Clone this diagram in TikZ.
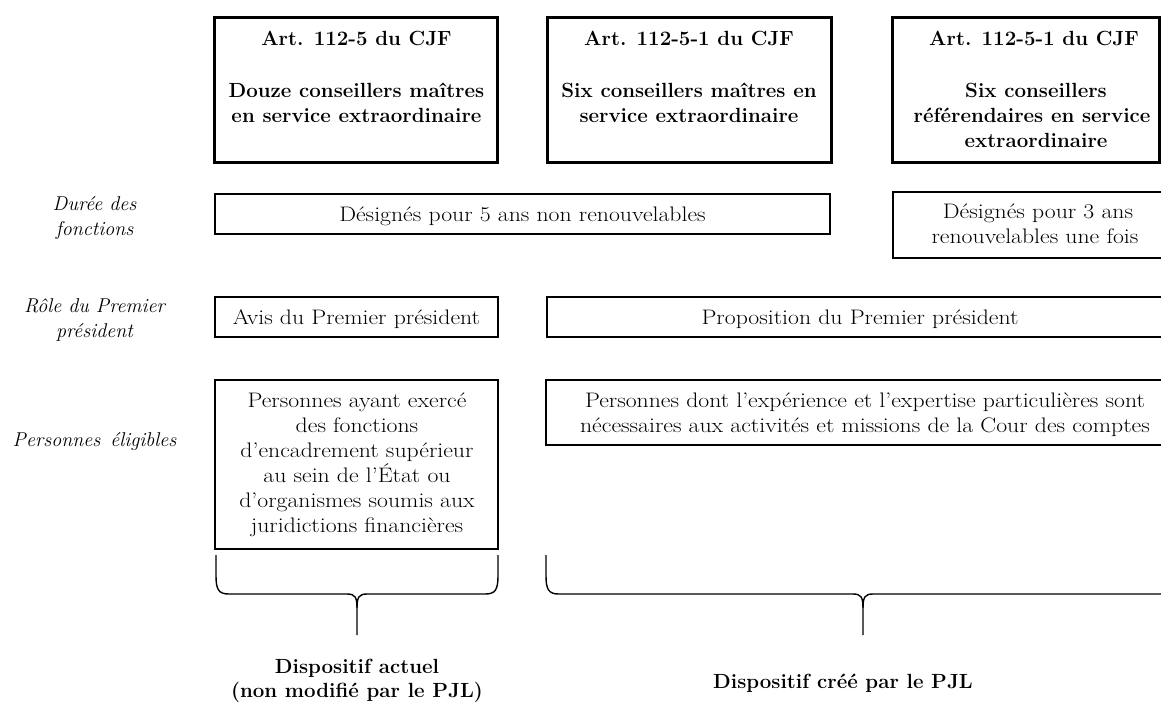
\documentclass[tikz,border=0pt]{standalone}
\usepackage{fontspec}
\setmainfont{Latin Modern Roman}
\newfontfamily\widefont{Latin Modern Roman}[FakeStretch=1.13]
\begin{document}
\begin{tikzpicture}[x=1pt,y=-1pt,
  bigbox/.style={draw, line width=3pt, inner sep=0pt, minimum width=#1},
  box/.style={draw, line width=1.4pt, inner sep=0pt},
  txt/.style={anchor=base, inner sep=0pt, font=\widefont\fontsize{21}{25}\selectfont},
  btxt/.style={anchor=base, inner sep=0pt, font=\fontsize{20.5}{25}\selectfont\bfseries},
  lab/.style={anchor=base, inner sep=0pt, font=\fontsize{20}{25}\selectfont\itshape},
  brace/.style={line width=1.4pt, line join=round}]
\useasboundingbox (0,0) rectangle (1161,702);
\clip (0,0) rectangle (1161,702);

% top boxes
\node[bigbox=283pt, minimum height=145pt] (b1) at (356,89.5) {};
\node[bigbox=284pt, minimum height=145pt] (b2) at (689,89.5) {};
\node[bigbox=267pt, minimum height=145pt] (b3) at (1025.5,89.5) {};

\node[btxt] (b1a) at (356.5,45) {Art. 112-5 du CJF};
\node[btxt] (b1b) at (356.5,97) {Douze conseillers maîtres};
\node[btxt] (b1c) at (356.5,122) {en service extraordinaire};

\node[btxt] (b2a) at (689,45) {Art. 112-5-1 du CJF};
\node[btxt] (b2b) at (689,97) {Six conseillers maîtres en};
\node[btxt] (b2c) at (689,122) {service extraordinaire};

\node[btxt] (b3a) at (1034,45) {Art. 112-5-1 du CJF};
\node[btxt] (b3b) at (1036,97) {Six conseillers};
\node[btxt] (b3c) at (1032,122) {référendaires en service};
\node[btxt] (b3d) at (1036,147) {extraordinaire};

% row labels
\node[lab] (l1a) at (94.5,210) {Durée des};
\node[lab] (l1b) at (94.5,235) {fonctions};
\node[lab] (l2a) at (94.5,312) {Rôle du Premier};
\node[lab] (l2b) at (94.5,337) {président};
\node[lab] (l3) at (94.5,446) {Personnes\hspace{0.5em}éligibles};

% Durée row
\node[box, minimum width=615pt, minimum height=40pt] (dA) at (522.5,214) {};
\node[txt] (dAt) at (522.5,221) {Désignés pour 5 ans non renouvelables};
\node[box, minimum width=287pt, minimum height=66pt] (dB) at (1036.5,225) {};
\node[txt] (dBa) at (1038,218) {Désignés pour 3 ans};
\node[txt] (dBb) at (1035,243) {renouvelables une fois};

% Rôle row
\node[box, minimum width=283pt, minimum height=40pt] (rA) at (356.5,317) {};
\node[txt] (rAt) at (356.5,324.5) {Avis du Premier président};
\node[box, minimum width=633pt, minimum height=40pt] (rB) at (863.5,317) {};
\node[txt] (rBt) at (860,324.5) {Proposition du Premier président};

% Personnes row
\node[box, minimum width=283pt, minimum height=169pt] (pA) at (356.5,464.5) {};
\node[txt] (pA1) at (357,407) {Personnes ayant exercé};
\node[txt] (pA2) at (357,432) {des fonctions};
\node[txt] (pA3) at (357,457) {d’encadrement supérieur};
\node[txt] (pA4) at (357,482) {au sein de l’État ou};
\node[txt] (pA5) at (357,507) {d’organismes soumis aux};
\node[txt] (pA6) at (357,532) {juridictions financières};
\node[box, minimum width=639pt, minimum height=65pt] (pB) at (865.5,412.5) {};
\node[txt] (pB1) at (865,407) {Personnes dont l’expérience et l’expertise particulières sont};
\node[txt] (pB2) at (865,432) {nécessaires aux activités et missions de la Cour des comptes};

% braces
\coordinate (LbL) at (216,555);
\coordinate (LbR) at (498,555);
\coordinate (Ltip) at (357,635);
\draw[brace] (LbL) -- (216,576) .. controls (216,590) and (219,594) .. (229,594)
  -- (347,594) .. controls (355,594) and (357,597) .. (357,608) -- (Ltip);
\draw[brace] (LbR) -- (498,576) .. controls (498,590) and (495,594) .. (485,594)
  -- (367,594) .. controls (359,594) and (357,597) .. (357,608);
\coordinate (RbL) at (546,555);
\coordinate (Rtip) at (863,635);
\draw[brace] (RbL) -- (546,576) .. controls (546,590) and (549,594) .. (559,594)
  -- (853,594) .. controls (861,594) and (863,597) .. (863,608) -- (Rtip);
\draw[brace] (863,608) .. controls (863,597) and (865,594) .. (873,594) -- (1170,594);

% bottom labels
\node[btxt] (d1a) at (357,673) {Dispositif actuel};
\node[btxt] (d1b) at (357,697) {(non modifié par le PJL)};
\node[btxt] (d2) at (843,688) {Dispositif créé par le PJL};
\end{tikzpicture}
\end{document}
